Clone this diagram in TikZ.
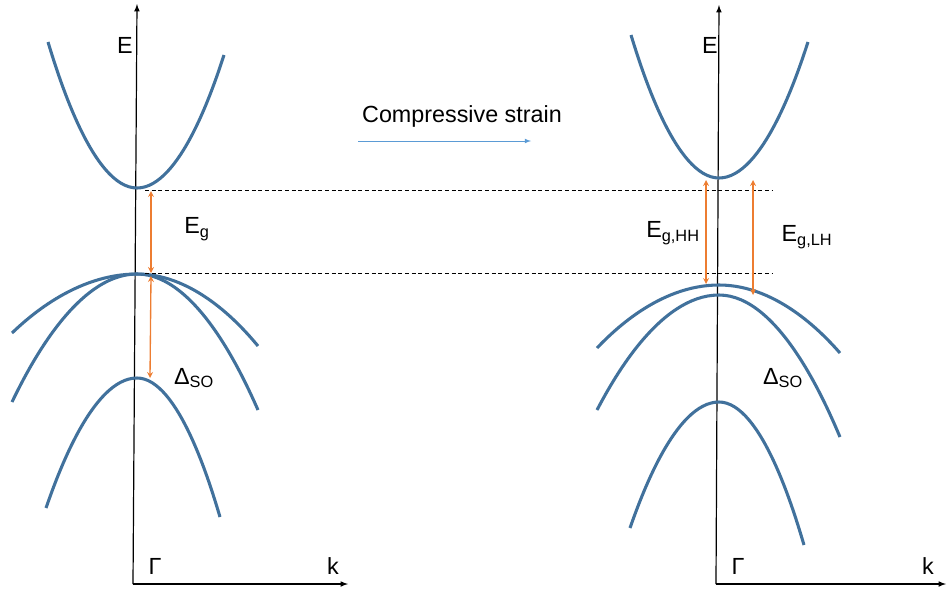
\documentclass[tikz,border=0pt]{standalone}
\usepackage{fontspec}
\setmainfont{Liberation Sans}
\usetikzlibrary{arrows}
\definecolor{bandblue}{RGB}{65,113,156}
\definecolor{gaporange}{RGB}{237,125,49}
\definecolor{strainblue}{RGB}{91,155,213}
\tikzset{band/.style={bandblue,line width=2.3pt},
 gaparr/.style={gaporange,line width=1pt,stealth-stealth},
 axis/.style={-latex,line width=0.9pt},
 lvl/.style={dash pattern=on 3pt off 2pt,line width=0.6pt}}

\begin{document}
\begin{tikzpicture}[x=0.75pt,y=-0.75pt,font=\fontsize{17.5}{20}\selectfont]
 \useasboundingbox (0,0) rectangle (947,593);
 % unstrained
 \coordinate (O1) at (133,584);
 \coordinate (Y1) at (137,4);
 \coordinate (K1) at (348,584);
 \draw [axis] (O1) -- (Y1);
 \draw [axis] (O1) -- (K1);
 \node (E1) at (125,45) {E};
 \node (G1) at (155,566) {Γ};
 \node (k1) at (333,566) {k};
 \draw [band] (48,42) parabola bend (137,188) (224,55);
 \draw [band] (12,333) parabola bend (137,274) (258,346);
 \draw [band] (12,402) parabola bend (137,274) (258,410);
 \draw [band] (46,508) parabola bend (137,378) (220,517);
 \coordinate (A1) at (151,191);
 \coordinate (A2) at (151,273);
 \coordinate (A3) at (151,276);
 \coordinate (A4) at (150,378);
 \draw [gaparr] (A1) -- (A2);
 \draw [gaparr] (A3) -- (A4);
 \node (Eg) at (197,229) {E\textsubscript{g}};
 \node (SO1) at (194,378) {Δ\textsubscript{SO}};
 % levels
 \coordinate (L1) at (145,190);
 \coordinate (L2) at (773,190);
 \coordinate (L3) at (145,273);
 \coordinate (L4) at (773,273);
 \draw [lvl] (L1) -- (L2);
 \draw [lvl] (L3) -- (L4);
 % strain
 \node (S) at (462,116) {Compressive strain};
 \coordinate (S1) at (358,141);
 \coordinate (S2) at (531,141);
 \draw [-latex,strainblue,line width=0.6pt] (S1) -- (S2);
 % compressively strained
 \coordinate (O2) at (716,584);
 \coordinate (Y2) at (719,5);
 \coordinate (K2) at (946,584);
 \draw [axis] (O2) -- (Y2);
 \draw [axis] (O2) -- (K2);
 \node (E2) at (710,45) {E};
 \node (G2) at (738,566) {Γ};
 \node (k2) at (928,566) {k};
 \draw [band] (631,35) parabola bend (719,178) (808,42);
 \draw [band] (597,348) parabola bend (719,285) (840,353);
 \draw [band] (597,410) parabola bend (719,295) (840,437);
 \draw [band] (630,528) parabola bend (719,402) (804,545);
 \coordinate (B1) at (706,180);
 \coordinate (B2) at (706,284);
 \coordinate (B3) at (753,180);
 \coordinate (B4) at (753,295);
 \draw [gaparr] (B1) -- (B2);
 \draw [gaparr] (B3) -- (B4);
 \node (EHH) at (673,233) {E\textsubscript{g,HH}};
 \node (ELH) at (807,237) {E\textsubscript{g,LH}};
 \node (SO2) at (783,378) {Δ\textsubscript{SO}};
\end{tikzpicture}
\end{document}
